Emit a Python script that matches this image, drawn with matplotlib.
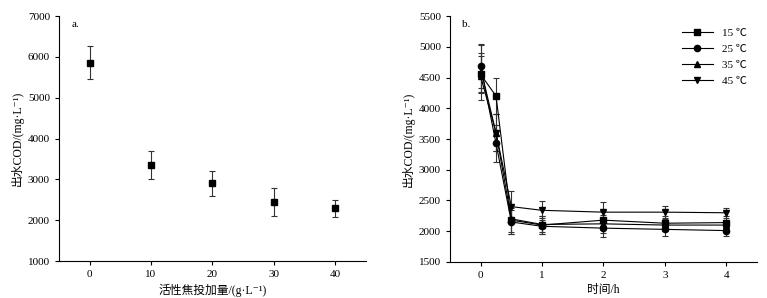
import matplotlib
matplotlib.use("Agg")
import matplotlib.pyplot as plt

plt.rcParams['font.family'] = ['Liberation Serif', 'Noto Sans CJK SC', 'DejaVu Sans']
plt.rcParams['axes.unicode_minus'] = False

# Panel a data
dose = [0, 10, 20, 30, 40]
cod_a = [5860, 3350, 2900, 2450, 2290]
err_a = [400, 350, 300, 350, 200]

# Panel b data
time_h = [0, 0.25, 0.5, 1, 2, 3, 4]
cod_15 = [4550, 4200, 2180, 2100, 2180, 2130, 2140]
cod_25 = [4680, 3430, 2150, 2080, 2050, 2030, 2010]
cod_35 = [4520, 3600, 2200, 2110, 2120, 2100, 2100]
cod_45 = [4650, 3600, 2400, 2340, 2310, 2310, 2300]
err_15 = [300, 300, 200, 150, 150, 120, 100]
err_25 = [350, 300, 200, 130, 150, 100, 80]
err_35 = [380, 300, 250, 130, 150, 100, 80]
err_45 = [390, 300, 250, 150, 160, 100, 80]
labels_b = ['15 ℃', '25 ℃', '35 ℃', '45 ℃']
markers_b = ['s', 'o', '^', 'v']

fig = plt.figure(figsize=(7.67, 2.98), dpi=100)
ax1 = fig.add_axes([0.0769, 0.124, 0.400, 0.822])
ax2 = fig.add_axes([0.5867, 0.121, 0.400, 0.825])

fs = 8
lfs = 8.5
for ax in (ax1, ax2):
    ax.spines['top'].set_visible(False)
    ax.spines['right'].set_visible(False)
    ax.tick_params(direction='out', length=3, width=0.8, labelsize=fs)
    for s in ax.spines.values():
        s.set_linewidth(0.8)

ax1.errorbar(dose, cod_a, yerr=err_a, fmt='s', color='black', markersize=4.5,
             ecolor='#333333', elinewidth=0.8, capsize=2.5, capthick=0.8)
ax1.set_xlim(-5, 45)
ax1.set_ylim(1000, 7000)
ax1.set_xticks([0, 10, 20, 30, 40])
ax1.set_yticks(range(1000, 7001, 1000))
ax1.set_xlabel('活性焦投加量/(g·L⁻¹)', fontsize=lfs, labelpad=3)
ax1.set_ylabel('出水COD/(mg·L⁻¹)', fontsize=lfs, labelpad=3)
ax1.text(0.04, 0.985, 'a.', transform=ax1.transAxes, fontsize=fs, va='top')

series = [(cod_15, err_15), (cod_25, err_25), (cod_35, err_35), (cod_45, err_45)]
for (vals, errs), lab, mk in zip(series, labels_b, markers_b):
    ax2.errorbar(time_h, vals, yerr=errs, fmt='-', marker=mk, color='black',
                 markersize=4.5, linewidth=0.8, ecolor='#333333', elinewidth=0.8,
                 capsize=2.5, capthick=0.8, label=lab)
ax2.set_xlim(-0.5, 4.5)
ax2.set_ylim(1500, 5500)
ax2.set_xticks([0, 1, 2, 3, 4])
ax2.set_yticks(range(1500, 5501, 500))
ax2.set_xlabel('时间/h', fontsize=lfs, labelpad=3)
ax2.set_ylabel('出水COD/(mg·L⁻¹)', fontsize=lfs, labelpad=3)
ax2.text(0.04, 0.985, 'b.', transform=ax2.transAxes, fontsize=fs, va='top')
handles, labs = ax2.get_legend_handles_labels()
ax2.legend([h[0] for h in handles], labs, loc='upper right', frameon=False,
           fontsize=fs, handlelength=2.8, labelspacing=0.55,
           bbox_to_anchor=(1.0, 0.99))

fig.savefig('out.png', dpi=100)
